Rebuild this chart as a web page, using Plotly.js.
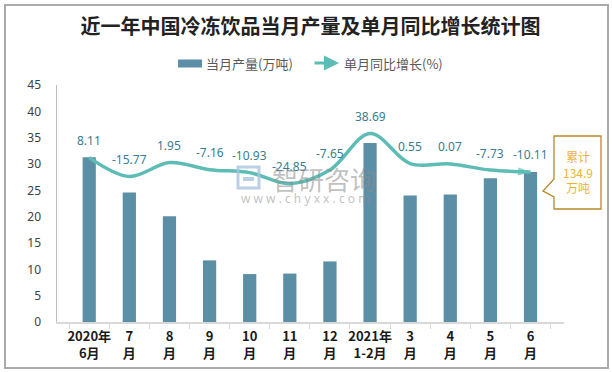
<!DOCTYPE html>
<html>
<head>
<meta charset="utf-8">
<script src="https://cdn.plot.ly/plotly-3.0.1.min.js"></script>
<style>
  html, body { margin: 0; padding: 0; background: #fff; }
  #wrap { position: relative; width: 612px; height: 372px; }
  #chart { width: 612px; height: 372px; }
  #frame { position: absolute; left: 4px; top: 4px; width: 601px; height: 361px;
           border: 2px solid #ababab; pointer-events: none; }
</style>
</head>
<body>
<div id="wrap"><div id="chart"></div><div id="frame"></div></div>
<script>
// ---- data ----
const categories = ['2020年<br>6月', '7<br>月', '8<br>月', '9<br>月', '10<br>月', '11<br>月', '12<br>月',
                    '2021年<br>1-2月', '3<br>月', '4<br>月', '5<br>月', '6<br>月'];
const monthlyOutput = [31.3, 24.6, 20.1, 11.7, 9.1, 9.2, 11.5, 34.0, 24.0, 24.2, 27.3, 28.5];
const yoyGrowth = [8.11, -15.77, 1.95, -7.16, -10.93, -24.85, -7.65, 38.69, 0.55, 0.07, -7.73, -10.11];
const seriesNames = ['当月产量(万吨)', '单月同比增长(%)'];
const cumulativeLabel = ['累计', '134.9', '万吨'];
const titleText = '近一年中国冷冻饮品当月产量及单月同比增长统计图';

// ---- style ----
const barColor = '#5b8fa6';
const lineColor = '#5dbdb4';
const dotColor = '#f4b71a';
const labelColor = '#3a7d8f';
const FONT = '"Noto Sans CJK SC", "Noto Sans", sans-serif';
const NUMFONT = '"Noto Sans", "Noto Sans CJK SC", sans-serif';

const L = 57, T = 85, W = 507, H = 237;
const px = x => (x - L) / W;
const py = y => (T + H - y) / H;

const last = yoyGrowth.length - 1;

const traces = [
  {
    type: 'bar', x: categories, y: monthlyOutput, name: seriesNames[0],
    marker: { color: barColor }, hoverinfo: 'x+y'
  },
  {
    type: 'scatter', mode: 'lines+markers', x: categories, y: yoyGrowth, yaxis: 'y2',
    name: seriesNames[1], cliponaxis: false,
    line: { color: lineColor, width: 3.5, shape: 'spline', smoothing: 1 },
    marker: {
      symbol: yoyGrowth.map((v, i) => i === last ? 'arrow' : 'circle'),
      size: yoyGrowth.map((v, i) => i === 0 ? 11 : (i === last ? 13 : 0)),
      color: yoyGrowth.map((v, i) => i === 0 ? dotColor : lineColor),
      angleref: 'previous',
      line: { width: 0 }
    }
  }
];

const annotations = yoyGrowth.map((v, i) => ({
  x: categories[i], y: v, xref: 'x', yref: 'y2', text: v.toFixed(2),
  showarrow: false, yshift: 17, font: { family: NUMFONT, size: 12, color: labelColor }
}));

// custom legend
annotations.push({
  xref: 'paper', yref: 'paper', x: px(204), y: py(63.5), xanchor: 'left', yanchor: 'middle',
  text: seriesNames[0], showarrow: false, font: { family: FONT, size: 13, color: '#595959' }
});
annotations.push({
  xref: 'paper', yref: 'paper', x: px(342), y: py(63.5), xanchor: 'left', yanchor: 'middle',
  text: seriesNames[1], showarrow: false, font: { family: FONT, size: 13, color: '#595959' }
});
annotations.push({
  xref: 'paper', yref: 'paper', x: px(339), y: py(63), axref: 'pixel', ayref: 'pixel',
  ax: -26, ay: 0, text: '', showarrow: true, arrowhead: 2, arrowsize: 1, arrowwidth: 3,
  arrowcolor: lineColor, standoff: 0, startstandoff: 0
});

// callout text
annotations.push({
  xref: 'paper', yref: 'paper', x: px(577.5), y: py(172), xanchor: 'center', yanchor: 'middle',
  text: cumulativeLabel.join('<br>'), showarrow: false,
  font: { family: FONT, size: 12, color: '#f0b32e' }
});
// watermark
annotations.push({
  xref: 'paper', yref: 'paper', x: px(324), y: py(178), xanchor: 'center', yanchor: 'middle',
  text: '智研咨询', showarrow: false,
  font: { family: FONT, size: 26, color: 'rgba(140,140,140,0.55)' }
});
annotations.push({
  xref: 'paper', yref: 'paper', x: px(305), y: py(198), xanchor: 'center', yanchor: 'middle',
  text: 'w w w . c h y x x . c o m', showarrow: false,
  font: { family: NUMFONT, size: 12, color: 'rgba(140,140,140,0.55)' }
});

const shapes = [
  // legend swatch for bars
  {
    type: 'rect', xref: 'paper', yref: 'paper', layer: 'above',
    x0: px(178), x1: px(202), y0: py(67.5), y1: py(59.5),
    fillcolor: barColor, line: { width: 0 }
  },
  // callout
  {
    type: 'path', xref: 'paper', yref: 'paper', layer: 'above',
    path: `M ${px(554)},${py(136)} L ${px(601)},${py(136)} L ${px(601)},${py(209)} L ${px(554)},${py(209)} ` +
          `L ${px(554)},${py(197)} L ${px(543)},${py(191)} L ${px(554)},${py(179)} Z`,
    fillcolor: '#ffffff', line: { color: '#b8892a', width: 1.3 }
  },
  // watermark logo
  {
    type: 'rect', xref: 'paper', yref: 'paper', layer: 'above',
    x0: px(238), x1: px(259), y0: py(188), y1: py(167),
    fillcolor: 'rgba(0,0,0,0)', line: { color: 'rgba(170,195,225,0.8)', width: 3 }
  },
  {
    type: 'rect', xref: 'paper', yref: 'paper', layer: 'above',
    x0: px(243), x1: px(254), y0: py(181), y1: py(177),
    fillcolor: 'rgba(170,195,225,0.8)', line: { width: 0 }
  }
];

const layout = {
  width: 612, height: 372,
  margin: { l: L, r: 612 - L - W, t: T, b: 372 - T - H },
  paper_bgcolor: '#ffffff', plot_bgcolor: '#ffffff',
  font: { family: FONT, size: 12, color: '#404040' },
  title: {
    text: '<b>' + titleText + '</b>', x: 0.5, xanchor: 'center', xref: 'paper',
    y: 1 - 27 / 372, yanchor: 'middle', yref: 'container',
    font: { family: FONT, size: 20, color: '#222222' }
  },
  bargap: 0.67,
  showlegend: false,
  xaxis: {
    type: 'category', showgrid: false, zeroline: false,
    showline: true, linecolor: '#d9d9d9', linewidth: 1.5,
    ticks: 'outside', tickson: 'boundaries', ticklen: 5, tickcolor: '#d9d9d9',
    ticklabelstandoff: 2,
    tickfont: { family: FONT, size: 13, color: '#1a1a1a', weight: 'bold' },
    tickangle: 0, fixedrange: true
  },
  yaxis: {
    range: [0, 45], dtick: 5, showgrid: false, zeroline: false,
    showline: true, linecolor: '#bfbfbf', linewidth: 1.5, ticks: '',
    ticklabelstandoff: 12,
    tickfont: { family: NUMFONT, size: 12, color: '#404040' }, fixedrange: true
  },
  yaxis2: {
    overlaying: 'y', side: 'right', range: [-200, 100], visible: false,
    showgrid: false, zeroline: false, fixedrange: true
  },
  annotations: annotations,
  shapes: shapes
};

Plotly.newPlot('chart', traces, layout, { displayModeBar: false, staticPlot: true });
</script>
</body>
</html>
